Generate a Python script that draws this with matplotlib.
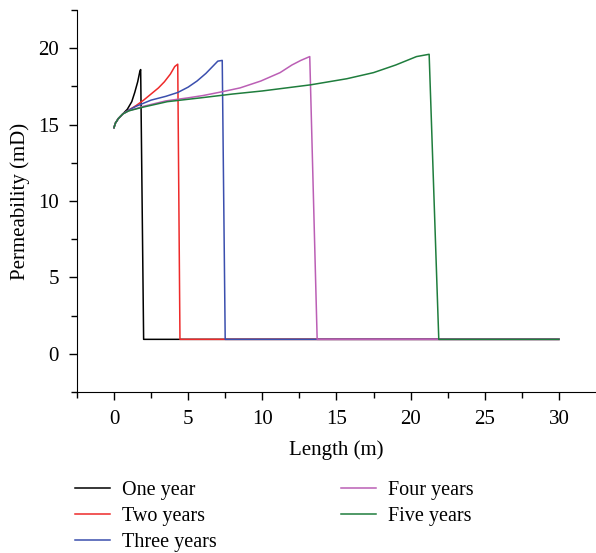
import matplotlib
matplotlib.use('Agg')
import matplotlib.pyplot as plt

plt.rcParams['font.family'] = ['Liberation Serif', 'DejaVu Serif']

labels = ['One year', 'Two years', 'Three years', 'Four years', 'Five years']
colors = ['#000000', '#ee2a2a', '#3b4fae', '#bb5fb5', '#1f7d3d']

x1 = [0, 0.1, 0.3, 0.6, 0.9, 1.2, 1.4, 1.6, 1.75, 1.8, 2.0, 30]
y1 = [14.8, 15.1, 15.4, 15.7, 16.0, 16.5, 17.1, 17.8, 18.5, 18.6, 0.95, 0.95]

x2 = [0, 0.1, 0.3, 0.6, 1.0, 1.5, 2.0, 2.5, 3.0, 3.4, 3.8, 4.1, 4.3, 4.45, 30]
y2 = [14.8, 15.1, 15.4, 15.7, 15.95, 16.25, 16.6, 17.0, 17.4, 17.8, 18.3, 18.8, 18.95, 0.95, 0.95]

x3 = [0, 0.1, 0.3, 0.6, 1.0, 1.5, 2.5, 3.5, 4.3, 5.0, 5.6, 6.2, 6.6, 7.0, 7.3, 7.5, 30]
y3 = [14.8, 15.1, 15.4, 15.7, 15.95, 16.2, 16.6, 16.85, 17.1, 17.45, 17.85, 18.35, 18.75, 19.15, 19.2, 0.95, 0.95]

x4 = [0, 0.1, 0.3, 0.6, 1.0, 2.0, 3.5, 5.0, 6.0, 7.3, 8.5, 9.9, 11.2, 12.0, 12.6, 13.2, 13.7, 30]
y4 = [14.8, 15.1, 15.4, 15.7, 15.9, 16.2, 16.55, 16.75, 16.9, 17.15, 17.4, 17.85, 18.4, 18.9, 19.2, 19.45, 0.95, 0.95]

x5 = [0, 0.1, 0.3, 0.6, 1.0, 2.0, 3.6, 5.85, 8.0, 10.0, 13.25, 15.7, 17.5, 19.0, 20.4, 21.25, 21.9, 30]
y5 = [14.8, 15.1, 15.4, 15.7, 15.9, 16.15, 16.5, 16.75, 17.0, 17.2, 17.6, 18.0, 18.4, 18.9, 19.45, 19.6, 0.95, 0.95]

xs = [x1, x2, x3, x4, x5]
ys = [y1, y2, y3, y4, y5]

fig = plt.figure(figsize=(5.96, 5.53), dpi=100)
ax = fig.add_axes([0.129, 0.291, 0.871, 0.691])

for x, y, c, lab in zip(xs, ys, colors, labels):
    ax.plot(x, y, color=c, linewidth=1.1, label=lab)

ax.set_xlim(-2.5, 32.5)
ax.set_ylim(-2.5, 22.5)
ax.set_xticks([0, 5, 10, 15, 20, 25, 30])
ax.set_yticks([0, 5, 10, 15, 20])
ax.set_xticks([-2.5, 2.5, 7.5, 12.5, 17.5, 22.5, 27.5], minor=True)
ax.set_yticks([-2.5, 2.5, 7.5, 12.5, 17.5, 22.5], minor=True)
ax.spines['top'].set_visible(False)
ax.spines['right'].set_visible(False)
ax.tick_params(direction='out', length=6, width=1, labelsize=15, pad=7)
ax.tick_params(which='minor', direction='out', length=4, width=1)
ax.set_xlabel('Length (m)', fontsize=15, labelpad=8)
ax.set_ylabel('Permeability (mD)', fontsize=15, labelpad=6)

fig.legend(loc='upper left', bbox_to_anchor=(0.113, 0.145), ncol=2, frameon=False,
           fontsize=14.5, handlelength=1.7, columnspacing=6.2, labelspacing=0.35,
           handletextpad=0.6, borderaxespad=0)

fig.savefig('out.png', dpi=100)
